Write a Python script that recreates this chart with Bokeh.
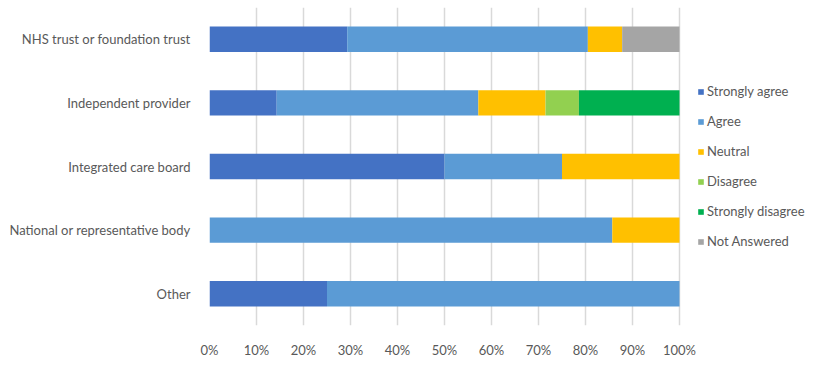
from bokeh.plotting import figure
from bokeh.models import ColumnDataSource, FactorRange, Range1d, FixedTicker, PrintfTickFormatter, Legend
from bokeh.embed import file_html
from bokeh.resources import INLINE

categories = ["NHS trust or foundation trust", "Independent provider", "Integrated care board",
              "National or representative body", "Other"]
series = ["Strongly agree", "Agree", "Neutral", "Disagree", "Strongly disagree", "Not Answered"]
strongly_agree = [29.3, 14.3, 50.0, 0.0, 25.0]
agree = [51.2, 42.9, 25.0, 85.7, 75.0]
neutral = [7.3, 14.3, 25.0, 14.3, 0.0]
disagree = [0.0, 7.1, 0.0, 0.0, 0.0]
strongly_disagree = [0.0, 21.4, 0.0, 0.0, 0.0]
not_answered = [12.2, 0.0, 0.0, 0.0, 0.0]
colors = ["#4472C4", "#5B9BD5", "#FFC000", "#92D050", "#00B050", "#A5A5A5"]
x_ticks = [0, 10, 20, 30, 40, 50, 60, 70, 80, 90, 100]

FONT = "Lato"
TXT = "#595959"

source = ColumnDataSource(dict(
    cat=categories,
    **{"Strongly agree": strongly_agree, "Agree": agree, "Neutral": neutral,
       "Disagree": disagree, "Strongly disagree": strongly_disagree, "Not Answered": not_answered}))

# frame extends past 100% to leave room for the legend (100% sits 470px from the left edge)
FRAME_W = 600
p = figure(y_range=FactorRange(*reversed(categories), range_padding=0),
           x_range=Range1d(0, 100 * FRAME_W / 470),
           frame_width=FRAME_W, frame_height=318, min_border_left=209, min_border_right=5,
           min_border_top=7, min_border_bottom=30,
           output_backend="svg", toolbar_location=None)

renderers = p.hbar_stack(series, y="cat", height=0.4, color=colors, source=source, line_color=None)

p.xaxis.ticker = FixedTicker(ticks=x_ticks)
p.xaxis.formatter = PrintfTickFormatter(format="%d%%")
p.xaxis.axis_line_color = None
p.xaxis.major_tick_line_color = None
p.xaxis.minor_tick_line_color = None
p.xaxis.major_label_standoff = 10
p.yaxis.axis_line_color = None
p.yaxis.major_tick_line_color = None
p.yaxis.minor_tick_line_color = None
p.yaxis.major_label_standoff = 13
for ax in (p.xaxis[0], p.yaxis[0]):
    ax.major_label_text_font = FONT
    ax.major_label_text_font_size = "13px"
    ax.major_label_text_color = TXT

p.xgrid.grid_line_color = "#d9d9d9"
p.xgrid.grid_line_width = 1.5
p.ygrid.grid_line_color = None
p.outline_line_color = None

legend = Legend(items=[(s, [r]) for s, r in zip(series, renderers)], location=(488, 74),
                glyph_width=7, glyph_height=7, label_standoff=3, spacing=10, label_height=20,
                label_text_font=FONT, label_text_font_size="13px", label_text_color=TXT,
                border_line_color=None, background_fill_alpha=0, margin=0, padding=0)
p.add_layout(legend, "center")

open("out.html", "w").write(file_html(p, INLINE))
